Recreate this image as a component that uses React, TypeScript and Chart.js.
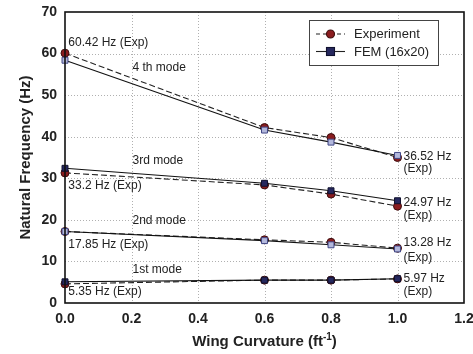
import React, { useEffect, useRef } from 'react';
import { Chart, registerables } from 'chart.js';

Chart.register(...registerables);

const curvature = [0.0, 0.6, 0.8, 1.0];
const exp1 = [4.6, 5.5, 5.5, 5.8];
const fem1 = [5.1, 5.5, 5.5, 5.85];
const exp2 = [17.2, 15.2, 14.6, 13.2];
const fem2 = [17.2, 15.0, 14.0, 13.0];
const exp3 = [31.3, 28.4, 26.2, 23.3];
const fem3 = [32.4, 28.8, 27.0, 24.6];
const exp4 = [60.1, 42.2, 39.8, 35.0];
const fem4 = [58.4, 41.6, 38.7, 35.5];

const modeNames = ['1st mode', '2nd mode', '3rd mode', '4 th mode'];
const modeLabelY = [7.9, 19.8, 34.2, 56.5];
const leftNotes = ['5.35 Hz (Exp)', '17.85 Hz (Exp)', '33.2 Hz (Exp)', '60.42 Hz (Exp)'];
const leftNoteY = [2.7, 14.0, 28.2, 62.5];
const rightNotes = ['5.97 Hz', '13.28 Hz', '24.97 Hz', '36.52 Hz'];
const rightNoteY = [5.8, 14.4, 24.2, 35.2];
const rightExpY = [2.7, 11.0, 20.9, 32.2];

const legendLabels = ['Experiment', 'FEM (16x20)'];

const FONT = '"Liberation Sans", Arial, sans-serif';
const RED = '#8a1c1f';
const RED_BORDER = '#3d0c0c';
const NAVY = '#26285e';
const NAVY_BORDER = '#10112e';
const LIGHT = '#b3b8dc';
const LIGHT_BORDER = '#404786';

const pts = (ys: number[]) => curvature.map((x, i) => ({ x, y: ys[i] }));

const expSet = (ys: number[]) => ({
  label: 'Experiment',
  data: pts(ys),
  showLine: true,
  borderColor: '#222',
  borderWidth: 1.1,
  borderDash: [6, 3],
  pointStyle: 'circle',
  pointRadius: 4,
  pointBackgroundColor: RED,
  pointBorderColor: RED_BORDER,
  pointBorderWidth: 1,
  clip: false as any,
});

const femSet = (ys: number[], light: boolean) => ({
  label: 'FEM (16x20)',
  data: pts(ys),
  showLine: true,
  borderColor: '#111',
  borderWidth: 1.1,
  pointStyle: 'rect',
  pointRadius: 4.2,
  pointBackgroundColor: light ? LIGHT : NAVY,
  pointBorderColor: light ? LIGHT_BORDER : NAVY_BORDER,
  pointBorderWidth: 1,
  clip: false as any,
});

const decor = {
  id: 'decor',
  beforeDatasetsDraw(chart: any) {
    const { ctx, chartArea: a, scales } = chart;
    const xs = scales.x, ys = scales.y;
    ctx.save();
    ctx.strokeStyle = '#b0b0b0';
    ctx.lineWidth = 1;
    ctx.setLineDash([1, 2]);
    for (let v = 0.2; v < 1.19; v += 0.2) {
      const px = Math.round(xs.getPixelForValue(v)) + 0.5;
      ctx.beginPath(); ctx.moveTo(px, a.top); ctx.lineTo(px, a.bottom); ctx.stroke();
    }
    for (let v = 10; v < 70; v += 10) {
      const py = Math.round(ys.getPixelForValue(v)) + 0.5;
      ctx.beginPath(); ctx.moveTo(a.left, py); ctx.lineTo(a.right, py); ctx.stroke();
    }
    ctx.restore();
  },
  afterDatasetsDraw(chart: any) {
    const { ctx, chartArea: a, scales } = chart;
    const xs = scales.x, ys = scales.y;
    ctx.save();
    ctx.setLineDash([]);
    ctx.strokeStyle = '#111';
    ctx.lineWidth = 1.6;
    ctx.strokeRect(a.left, a.top, a.right - a.left, a.bottom - a.top);

    ctx.fillStyle = '#222';
    ctx.textBaseline = 'middle';
    ctx.textAlign = 'left';
    ctx.font = `12px ${FONT}`;
    for (let i = 0; i < 4; i++) {
      ctx.fillText(modeNames[i], xs.getPixelForValue(0.2) + 1, ys.getPixelForValue(modeLabelY[i]));
      ctx.fillText(leftNotes[i], xs.getPixelForValue(0.01), ys.getPixelForValue(leftNoteY[i]));
      ctx.fillText(rightNotes[i], xs.getPixelForValue(1.018), ys.getPixelForValue(rightNoteY[i]));
      ctx.fillText('(Exp)', xs.getPixelForValue(1.018), ys.getPixelForValue(rightExpY[i]));
    }

    const lx = 309, ly = 20, lw = 129, lh = 45;
    ctx.fillStyle = '#fff';
    ctx.fillRect(lx, ly, lw, lh);
    ctx.strokeStyle = '#444';
    ctx.lineWidth = 1;
    ctx.strokeRect(lx + 0.5, ly + 0.5, lw, lh);
    const rows = [34, 51.5];
    for (let r = 0; r < 2; r++) {
      const y = rows[r];
      ctx.strokeStyle = '#222';
      ctx.lineWidth = 1.1;
      ctx.setLineDash(r === 0 ? [4, 3] : []);
      ctx.beginPath(); ctx.moveTo(316, y); ctx.lineTo(345, y); ctx.stroke();
      ctx.setLineDash([]);
      if (r === 0) {
        ctx.fillStyle = RED; ctx.strokeStyle = RED_BORDER;
        ctx.beginPath(); ctx.arc(330.5, y, 4, 0, Math.PI * 2); ctx.fill(); ctx.stroke();
      } else {
        ctx.fillStyle = NAVY; ctx.strokeStyle = NAVY_BORDER;
        ctx.fillRect(326.5, y - 4, 8, 8); ctx.strokeRect(326.5, y - 4, 8, 8);
      }
      ctx.fillStyle = '#222';
      ctx.font = `13px ${FONT}`;
      ctx.textAlign = 'left';
      ctx.fillText(legendLabels[r], 354, y + 0.5);
    }

    ctx.fillStyle = '#222';
    const main = 'Wing Curvature (ft';
    ctx.font = `bold 15px ${FONT}`;
    const w1 = ctx.measureText(main).width;
    ctx.font = `bold 10px ${FONT}`;
    const w2 = ctx.measureText('-1').width;
    ctx.font = `bold 15px ${FONT}`;
    const w3 = ctx.measureText(')').width;
    const total = w1 + w2 + w3;
    const cx = (a.left + a.right) / 2;
    const x0 = cx - total / 2;
    const ty = 342;
    ctx.textAlign = 'left';
    ctx.fillText(main, x0, ty);
    ctx.font = `bold 10px ${FONT}`;
    ctx.fillText('-1', x0 + w1, ty - 5);
    ctx.font = `bold 15px ${FONT}`;
    ctx.fillText(')', x0 + w1 + w2, ty);

    ctx.translate(26, (a.top + a.bottom) / 2);
    ctx.rotate(-Math.PI / 2);
    ctx.textAlign = 'center';
    ctx.fillText('Natural Frequency (Hz)', 0, 0);
    ctx.restore();
  },
};

export default function App() {
  const ref = useRef<HTMLCanvasElement>(null);
  useEffect(() => {
    document.body.style.margin = '0';
    const chart = new Chart(ref.current as HTMLCanvasElement, {
      type: 'scatter',
      data: {
        datasets: [
          femSet(fem4, true), expSet(exp4),
          femSet(fem3, false), expSet(exp3),
          femSet(fem2, true), expSet(exp2),
          femSet(fem1, false), expSet(exp1),
        ] as any,
      },
      options: {
        animation: false,
        responsive: false,
        layout: { padding: { top: 12, right: 9, left: 0, bottom: 0 } },
        plugins: { legend: { display: false }, tooltip: { enabled: false } },
        scales: {
          x: {
            type: 'linear',
            min: 0,
            max: 1.2,
            grid: { display: false, drawTicks: false },
            border: { display: false },
            ticks: {
              stepSize: 0.2,
              padding: 8,
              color: '#222',
              font: { family: FONT, size: 14, weight: 'bold' },
              callback: (v: any) => Number(v).toFixed(1),
            },
            afterFit: (s: any) => { s.height = 51; s.paddingRight = 0; s.paddingLeft = 0; },
          },
          y: {
            min: 0,
            max: 70,
            grid: { display: false, drawTicks: false },
            border: { display: false },
            ticks: {
              stepSize: 10,
              padding: 8,
              color: '#222',
              font: { family: FONT, size: 14, weight: 'bold' },
            },
            afterFit: (s: any) => { s.width = 65; s.paddingTop = 0; s.paddingBottom = 0; },
          },
        },
      } as any,
      plugins: [decor],
    });
    return () => chart.destroy();
  }, []);
  return (
    <div style={{ width: 473, height: 354 }}>
      <canvas ref={ref} width={473} height={354} />
    </div>
  );
}
